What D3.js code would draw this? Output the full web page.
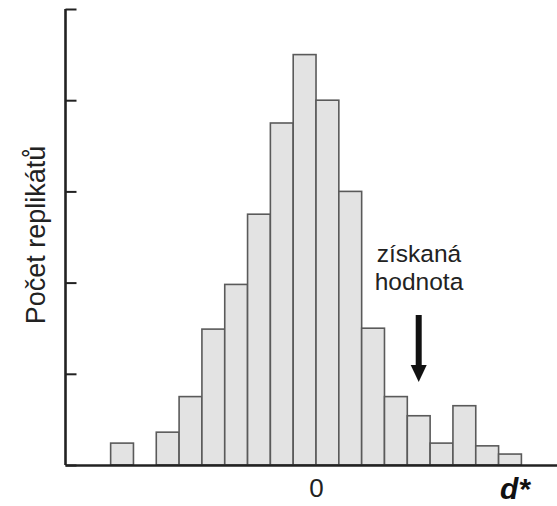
<!DOCTYPE html>
<html>
<head>
<meta charset="utf-8">
<script src="https://cdn.jsdelivr.net/npm/d3@7"></script>
<style>
  html, body { margin: 0; padding: 0; background: #fff; }
  svg { display: block; }
  text { font-family: "Liberation Sans", Arial, sans-serif; }
</style>
</head>
<body>
<svg id="chart" width="557" height="506"></svg>
<script>
// Bin lower edges (in d* units, bin width = 1; 0 lies between bins)
const binStarts = [-9, -8, -7, -6, -5, -4, -3, -2, -1, 0, 1, 2, 3, 4, 5, 6, 7, 8];
// Replicate counts per bin (relative units)
const counts = [2.4, 0, 3.6, 7.5, 14.9, 19.8, 27.5, 37.5, 45, 40, 30, 15, 7.5, 5.4, 2.4, 6.5, 2.1, 1.2];
const yTicks = [0, 10, 20, 30, 40, 50];
const xTickValues = [0];
const xTickLabels = ["0"];
const yLabel = "Počet replikátů";
const xLabel = "d*";
const noteLines = ["získaná", "hodnota"];
const observedValue = 4.5;   // where the arrow points (d* units)

const data = binStarts.map((s, i) => ({ x0: s, x1: s + 1, n: counts[i] }));

const svg = d3.select("#chart");
const x = d3.scaleLinear().domain([-11, 10.56]).range([65, 557]);
const y = d3.scaleLinear().domain([0, 50]).range([465, 9]);

// Bars
svg.append("g").selectAll("rect")
  .data(data.filter(d => d.n > 0))
  .join("rect")
  .attr("x", d => x(d.x0))
  .attr("y", d => y(d.n))
  .attr("width", d => x(d.x1) - x(d.x0))
  .attr("height", d => y(0) - y(d.n))
  .attr("fill", "#e3e3e3")
  .attr("stroke", "#5a5a5a")
  .attr("stroke-width", 1.6);

// Y axis (ticks inward, no labels)
const yAxis = d3.axisRight(y).tickValues(yTicks).tickSize(11).tickFormat("");
const gy = svg.append("g").attr("transform", `translate(${x(-11) + 0.5},0)`).call(yAxis);
gy.select(".domain").attr("d", `M0,${y(50)}V${y(0)}`).attr("stroke", "#222").attr("stroke-width", 2.6);
gy.selectAll(".tick line").attr("stroke", "#222").attr("stroke-width", 2);

// X axis
const xAxis = d3.axisBottom(x).tickValues(xTickValues).tickSize(0)
  .tickFormat((d, i) => xTickLabels[i]).tickPadding(14);
const gx = svg.append("g").attr("transform", `translate(0,${y(0)})`).call(xAxis);
gx.select(".domain").attr("stroke", "#222").attr("stroke-width", 2.6);
gx.selectAll(".tick text").attr("font-size", 26).attr("fill", "#222")
  .attr("font-family", "Liberation Sans, Arial, sans-serif");

// Axis labels
svg.append("text")
  .attr("transform", `translate(45,${235}) rotate(-90)`)
  .attr("text-anchor", "middle")
  .attr("font-size", 27)
  .attr("fill", "#222")
  .text(yLabel);

svg.append("text")
  .attr("x", 500).attr("y", 499)
  .attr("font-size", 30)
  .attr("font-weight", "bold")
  .attr("font-style", "italic")
  .attr("fill", "#111")
  .text(xLabel);

// Annotation
const note = svg.append("text")
  .attr("text-anchor", "middle")
  .attr("font-size", 24.5)
  .attr("fill", "#222");
noteLines.forEach((t, i) => {
  note.append("tspan").attr("x", 419).attr("y", 262 + i * 28).text(t);
});

// Arrow
const ax = x(observedValue);
svg.append("line")
  .attr("x1", ax).attr("x2", ax)
  .attr("y1", 315).attr("y2", 368)
  .attr("stroke", "#111").attr("stroke-width", 6);
svg.append("path")
  .attr("d", `M${ax - 8},365 L${ax + 8},365 L${ax},382 Z`)
  .attr("fill", "#111");
</script>
</body>
</html>
